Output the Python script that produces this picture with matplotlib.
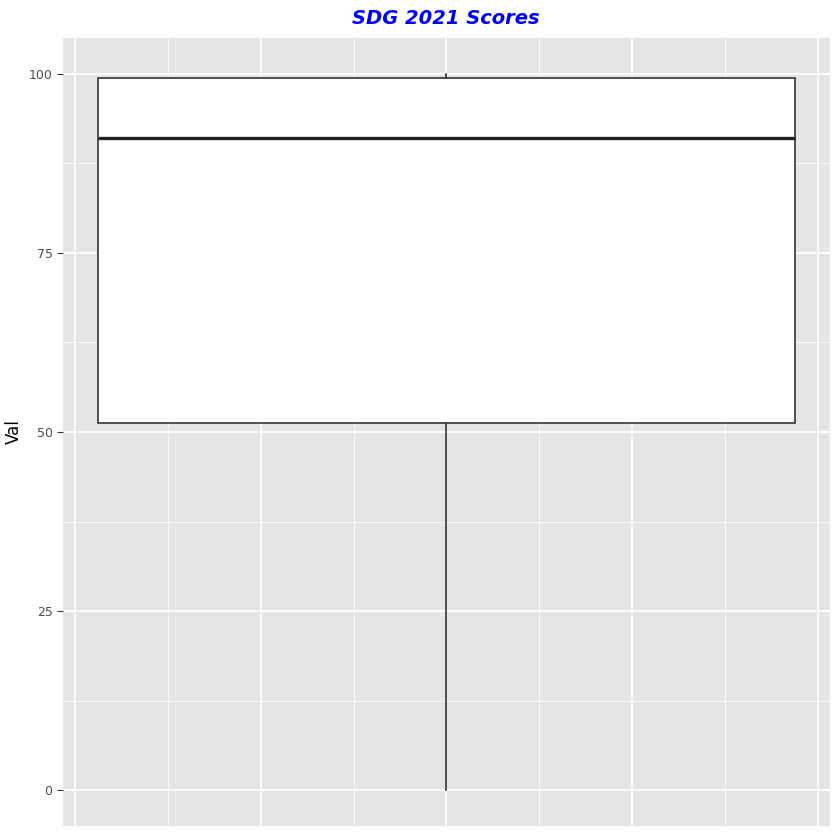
import matplotlib
matplotlib.use("Agg")
import matplotlib.pyplot as plt
from matplotlib.ticker import MultipleLocator

title = "SDG 2021 Scores"
ylabel = "Val"
wlo, q1, med, q3, whi = 0.0, 51.2, 91.0, 99.4, 100.0
yticks = [0, 25, 50, 75, 100]

fig = plt.figure(figsize=(8.4, 8.4), dpi=100)
ax = fig.add_axes([63/840, 14/840, 767/840, 788/840])
ax.set_facecolor("#E5E5E5")
ax.set_xlim(-0.4125, 0.4125)
ax.set_ylim(-5, 105)
ax.set_xticks([-0.4, -0.2, 0, 0.2, 0.4])
ax.xaxis.set_minor_locator(MultipleLocator(0.1))
ax.set_yticks(yticks)
ax.yaxis.set_minor_locator(MultipleLocator(12.5))
ax.grid(which="major", color="white", lw=1.3)
ax.grid(which="minor", color="white", lw=0.6)
ax.set_axisbelow(True)
ax.tick_params(axis="x", which="both", length=0, labelbottom=False)
ax.tick_params(axis="y", which="minor", length=0)
ax.tick_params(axis="y", which="major", length=4, color="#333333", labelsize=9, labelcolor="#4D4D4D")
for s in ax.spines.values():
    s.set_visible(False)
bp = ax.bxp([{"whislo": wlo, "q1": q1, "med": med, "q3": q3, "whishi": whi, "fliers": []}],
            positions=[0], widths=0.75, showcaps=False, patch_artist=True,
            boxprops=dict(facecolor="white", edgecolor="#333333", lw=1.2),
            medianprops=dict(color="#222222", lw=2.4),
            whiskerprops=dict(color="#333333", lw=1.2))
ax.set_ylabel(ylabel, fontsize=12)
fig.text(446/840, 1-18/840, title, ha="center", va="center", color="blue",
         fontsize=14, fontweight="bold", fontstyle="italic")
fig.savefig("out.png")
